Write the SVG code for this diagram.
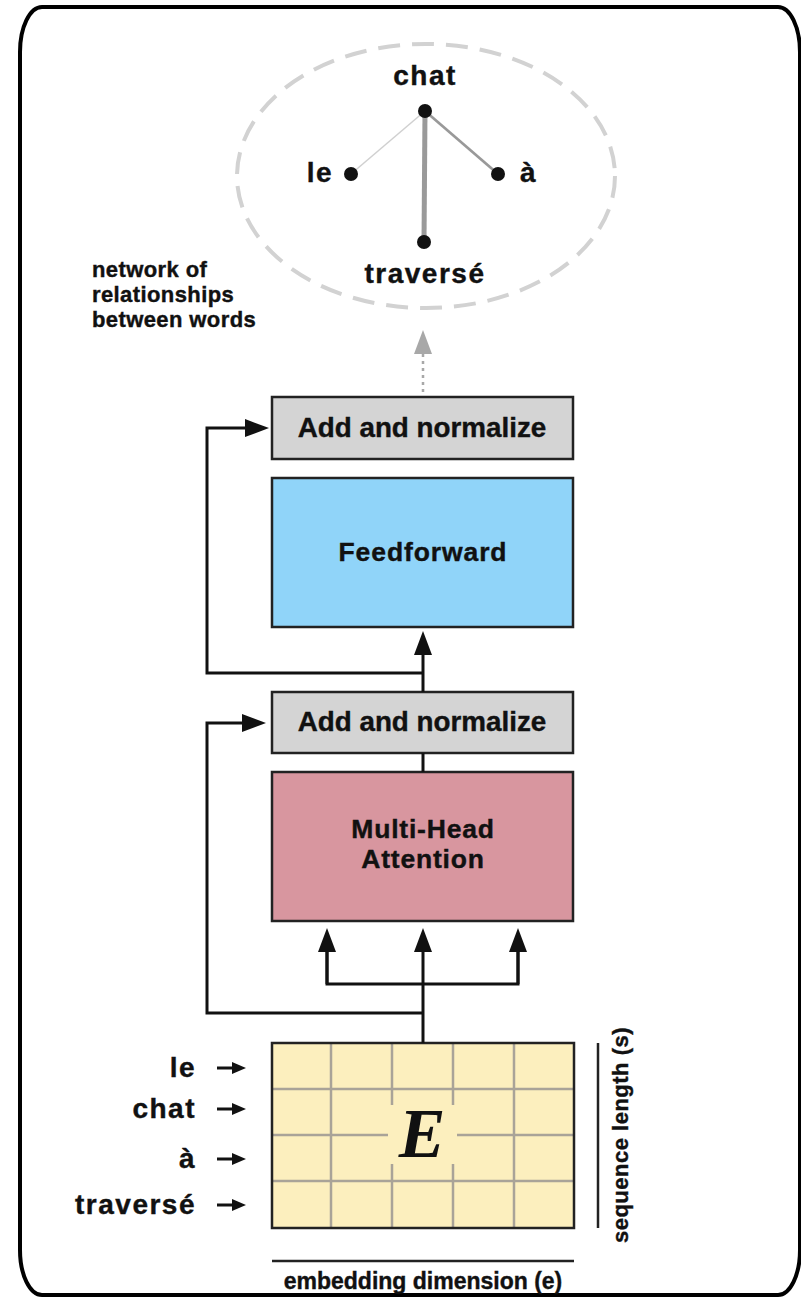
<svg xmlns="http://www.w3.org/2000/svg" width="801" height="1297" viewBox="0 0 801 1297">
<defs>
<style>
.t{font-family:"Liberation Sans",Arial,Helvetica,sans-serif;font-weight:bold;fill:#111;stroke:#111;stroke-width:0.4}
.box{stroke:#222;stroke-width:2.5}
.conn{fill:none;stroke:#111;stroke-width:3}
.grid{stroke:#a9a398;stroke-width:2.5}
</style>
<marker id="ah" viewBox="0 0 24 18" refX="0" refY="9" markerWidth="24" markerHeight="18" markerUnits="userSpaceOnUse" orient="auto"><path d="M0,0 L24,9 L0,18 z" fill="#111"/></marker>
<marker id="ahs" viewBox="0 0 14 12" refX="0" refY="6" markerWidth="14" markerHeight="12" markerUnits="userSpaceOnUse" orient="auto"><path d="M0,0 L14,6 L0,12 z" fill="#111"/></marker>
<marker id="ahg" viewBox="0 0 24 18" refX="0" refY="9" markerWidth="24" markerHeight="18" markerUnits="userSpaceOnUse" orient="auto"><path d="M0,0 L24,9 L0,18 z" fill="#a8a8a8"/></marker>
</defs>
<rect x="0" y="0" width="801" height="1297" fill="#fff"/>
<rect x="20" y="7" width="780" height="1288" rx="22" ry="45" fill="#fff" stroke="#000" stroke-width="4"/>

<g id="network">
<ellipse cx="426" cy="176" rx="189" ry="132" fill="none" stroke="#d2d2d2" stroke-width="4" stroke-dasharray="22 12"/>
<line x1="425" y1="111" x2="351" y2="174" stroke="#d0d0d0" stroke-width="1.5"/>
<line x1="425" y1="111" x2="498" y2="174" stroke="#999" stroke-width="2.7"/>
<line x1="425" y1="111" x2="424" y2="242" stroke="#9a9a9a" stroke-width="5"/>
<circle cx="425" cy="111" r="7" fill="#111"/>
<circle cx="351" cy="174" r="7" fill="#111"/>
<circle cx="498" cy="174" r="7" fill="#111"/>
<circle cx="424" cy="242" r="7" fill="#111"/>
<text class="t" x="425" y="85" font-size="28" letter-spacing="1.5" text-anchor="middle">chat</text>
<text class="t" x="333" y="182" font-size="28" letter-spacing="1.5" text-anchor="end">le</text>
<text class="t" x="520" y="182" font-size="28">à</text>
<text class="t" x="425" y="283" font-size="28" letter-spacing="1.5" text-anchor="middle">traversé</text>
</g>

<g id="network-label">
<text class="t" x="92" y="277" font-size="22" letter-spacing="0.4">network of</text>
<text class="t" x="92" y="302" font-size="22" letter-spacing="0.4">relationships</text>
<text class="t" x="92" y="327" font-size="22" letter-spacing="0.4">between words</text>
</g>

<g id="add-norm-top">
<rect class="box" x="272" y="397" width="301" height="62" fill="#d4d4d4"/>
<text class="t" x="422" y="437" font-size="27.8" text-anchor="middle">Add and normalize</text>
</g>

<g id="feedforward">
<rect class="box" x="272" y="478" width="301" height="149" fill="#90d4f9"/>
<text class="t" x="423" y="561" font-size="26.5" letter-spacing="0.9" text-anchor="middle">Feedforward</text>
</g>

<g id="add-norm-bottom">
<rect class="box" x="272" y="692" width="301" height="61" fill="#d4d4d4"/>
<text class="t" x="422" y="731" font-size="27.8" text-anchor="middle">Add and normalize</text>
</g>

<g id="mha">
<rect class="box" x="272" y="772" width="301" height="149" fill="#d8969f"/>
<text class="t" x="423" y="838" font-size="26.5" letter-spacing="0.8" text-anchor="middle">Multi-Head</text>
<text class="t" x="423" y="868" font-size="26.5" letter-spacing="0.8" text-anchor="middle">Attention</text>
</g>

<g id="embedding">
<rect x="272" y="1043" width="302" height="185" fill="#fcefbe"/>
<line class="grid" x1="331" y1="1043" x2="331" y2="1228"/>
<line class="grid" x1="392" y1="1043" x2="392" y2="1228"/>
<line class="grid" x1="453" y1="1043" x2="453" y2="1228"/>
<line class="grid" x1="514" y1="1043" x2="514" y2="1228"/>
<line class="grid" x1="272" y1="1089" x2="574" y2="1089"/>
<line class="grid" x1="272" y1="1135" x2="574" y2="1135"/>
<line class="grid" x1="272" y1="1181" x2="574" y2="1181"/>
<rect x="388" y="1105" width="69" height="59" fill="#fcefbe"/>
<rect class="box" x="272" y="1043" width="302" height="185" fill="none"/>
<text x="422" y="1157" font-family="'Liberation Serif','Times New Roman',serif" font-weight="bold" font-style="italic" font-size="70" fill="#111" text-anchor="middle">E</text>
<line x1="272" y1="1261" x2="574" y2="1261" stroke="#222" stroke-width="2.5"/>
<text class="t" x="423" y="1289" font-size="23" text-anchor="middle">embedding dimension (e)</text>
<line x1="598" y1="1043" x2="598" y2="1228" stroke="#222" stroke-width="2.5"/>
<text class="t" transform="translate(628,1135) rotate(-90)" font-size="22" letter-spacing="0.5" text-anchor="middle">sequence length (s)</text>
</g>

<g id="tokens">
<text class="t" x="196" y="1077" font-size="28" letter-spacing="1.5" text-anchor="end">le</text>
<text class="t" x="196" y="1118" font-size="28" letter-spacing="1.5" text-anchor="end">chat</text>
<text class="t" x="196" y="1168" font-size="28" letter-spacing="1.5" text-anchor="end">à</text>
<text class="t" x="196" y="1214" font-size="28" letter-spacing="1.5" text-anchor="end">traversé</text>
</g>

<g id="connectors">
<line x1="423" y1="392" x2="423" y2="354" stroke="#a8a8a8" stroke-width="2.5" stroke-dasharray="3 4" marker-end="url(#ahg)"/>
<path class="conn" d="M423,692 V655" marker-end="url(#ah)"/>
<path class="conn" d="M423,673 H207 V428 H245" marker-end="url(#ah)"/>
<path class="conn" d="M423,753 V772"/>
<path class="conn" d="M423,1043 V952" marker-end="url(#ah)"/>
<path class="conn" d="M327,952 V984 H518 V952"/>
<path class="conn" d="M327,984 V952" marker-end="url(#ah)"/>
<path class="conn" d="M518,984 V952" marker-end="url(#ah)"/>
<path class="conn" d="M423,1013 H207 V723 H242" marker-end="url(#ah)"/>
<path class="conn" stroke-width="2.5" d="M217,1068 H232" marker-end="url(#ahs)"/>
<path class="conn" stroke-width="2.5" d="M217,1109 H232" marker-end="url(#ahs)"/>
<path class="conn" stroke-width="2.5" d="M217,1159 H232" marker-end="url(#ahs)"/>
<path class="conn" stroke-width="2.5" d="M217,1205 H232" marker-end="url(#ahs)"/>
</g>
</svg>
